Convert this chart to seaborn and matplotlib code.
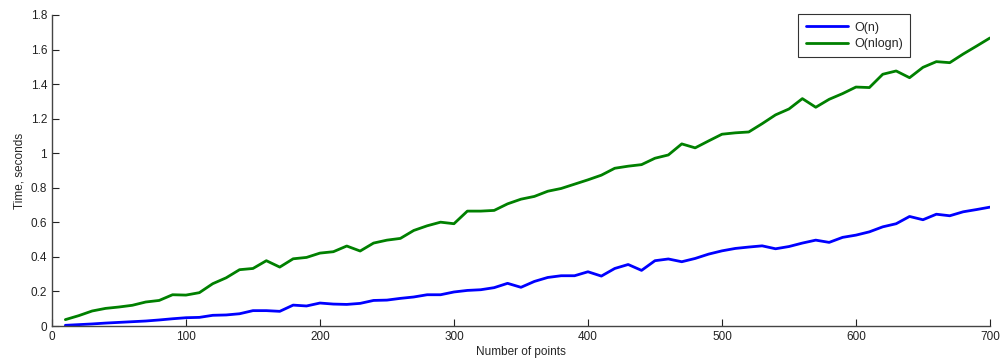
import numpy as np
import pandas as pd
import matplotlib
matplotlib.use("Agg")
import matplotlib.pyplot as plt
from matplotlib.ticker import FuncFormatter
import seaborn as sns

# Number of points (x axis)
n_points = list(range(10, 701, 10))

# Measured times, seconds
time_linear = [
    0.004, 0.008, 0.012, 0.017, 0.021, 0.025, 0.029, 0.035, 0.042, 0.048,
    0.050, 0.062, 0.064, 0.071, 0.089, 0.089, 0.085, 0.121, 0.116, 0.133,
    0.127, 0.125, 0.131, 0.148, 0.150, 0.160, 0.168, 0.181, 0.181, 0.197,
    0.206, 0.210, 0.222, 0.247, 0.224, 0.258, 0.281, 0.291, 0.291, 0.314,
    0.289, 0.333, 0.356, 0.322, 0.378, 0.388, 0.372, 0.391, 0.416, 0.435,
    0.449, 0.457, 0.464, 0.447, 0.460, 0.480, 0.497, 0.484, 0.513, 0.526,
    0.545, 0.574, 0.592, 0.634, 0.615, 0.647, 0.638, 0.661, 0.674, 0.688,
]
time_nlogn = [
    0.037, 0.060, 0.087, 0.102, 0.110, 0.120, 0.139, 0.148, 0.181, 0.179,
    0.193, 0.245, 0.279, 0.326, 0.333, 0.378, 0.341, 0.389, 0.397, 0.422,
    0.430, 0.463, 0.434, 0.480, 0.497, 0.507, 0.553, 0.580, 0.601, 0.592,
    0.665, 0.665, 0.669, 0.707, 0.734, 0.750, 0.780, 0.796, 0.821, 0.846,
    0.873, 0.913, 0.925, 0.934, 0.971, 0.990, 1.054, 1.031, 1.071, 1.110,
    1.118, 1.123, 1.171, 1.222, 1.256, 1.316, 1.266, 1.312, 1.345, 1.383,
    1.380, 1.457, 1.476, 1.437, 1.497, 1.530, 1.524, 1.574, 1.620, 1.667,
]
series_names = ["O(n)", "O(nlogn)"]
series_colors = ["#0000ff", "#008000"]

df = pd.concat([
    pd.DataFrame({"n": n_points, "time": time_linear, "series": series_names[0]}),
    pd.DataFrame({"n": n_points, "time": time_nlogn, "series": series_names[1]}),
])

sns.set_style("ticks")
plt.rcParams["font.family"] = ["Liberation Sans", "DejaVu Sans"]

fig = plt.figure(figsize=(10.03, 3.62), dpi=100)
ax = fig.add_axes([0.0518, 0.0994, 0.9352, 0.8592])

sns.lineplot(data=df, x="n", y="time", hue="series", hue_order=series_names,
             palette=series_colors, linewidth=2.0, ax=ax)

ax.set_xlim(0, 700)
ax.set_ylim(0, 1.8)
ax.set_xticks(np.arange(0, 701, 100))
ax.set_yticks(np.arange(0, 1.81, 0.2))
ax.yaxis.set_major_formatter(FuncFormatter(lambda v, _: f"{v:g}"))
ax.tick_params(direction="in", length=5, width=0.8, labelsize=8.5, colors="#222222")
ax.set_xlabel("Number of points", fontsize=8.5, labelpad=2)
ax.set_ylabel("Time, seconds", fontsize=8.5, labelpad=4)
sns.despine(ax=ax)
for side in ["left", "bottom"]:
    ax.spines[side].set_color("#444444")
    ax.spines[side].set_linewidth(1.0)

leg = ax.legend(loc="upper right", bbox_to_anchor=(0.915, 1.003), borderaxespad=0,
                fontsize=9, frameon=True, fancybox=False, handlelength=3.4,
                handletextpad=0.45, borderpad=0.6, labelspacing=0.35)
leg.get_frame().set_edgecolor("black")
leg.get_frame().set_linewidth(0.8)

fig.savefig("out.png", dpi=100)
